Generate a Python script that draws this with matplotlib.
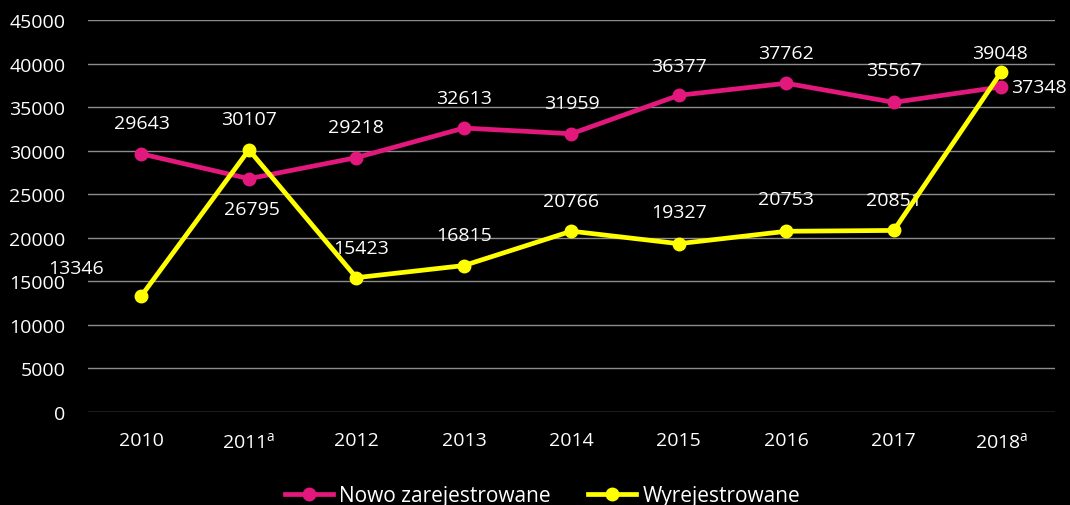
import matplotlib
matplotlib.use('Agg')
import matplotlib.pyplot as plt
import numpy as np

plt.rcParams['font.family'] = ['Open Sans', 'DejaVu Sans']

# ─── data ───
years = ["2010", "2011$^\\mathregular{a}$", "2012", "2013", "2014", "2015", "2016", "2017", "2018$^\\mathregular{a}$"]
nowo = [29643, 26795, 29218, 32613, 31959, 36377, 37762, 35567, 37348]
wyrej = [13346, 30107, 15423, 16815, 20766, 19327, 20753, 20851, 39048]
series_names = ["Nowo zarejestrowane", "Wyrejestrowane"]

PINK = "#E3187D"
YELLOW = "#FFFF00"
GRID = "#8C8C8C"

# label offsets in points (dx, dy)
nowo_off = [(0, 22), (2, -22), (0, 22), (0, 22), (0, 22), (0, 21), (0, 22), (0, 23), (27, 0)]
wyrej_off = [(-47, 20), (0, 22), (3, 21), (0, 22), (0, 22), (0, 23), (0, 23), (0, 22), (-1, 14)]

fig, ax = plt.subplots(figsize=(10.7, 5.06), dpi=100)
fig.patch.set_facecolor("black")
ax.set_facecolor("black")
fig.subplots_adjust(left=0.082, right=0.986, top=0.958, bottom=0.184)

x = np.arange(len(years))
ax.plot(x, nowo, "-o", color=PINK, lw=3.4, ms=9, label=series_names[0], zorder=3)
ax.plot(x, wyrej, "-o", color=YELLOW, lw=3.4, ms=9, label=series_names[1], zorder=4)

for xi, v, (dx, dy) in zip(x, nowo, nowo_off):
    ax.annotate(str(v), (xi, v), xytext=(dx, dy), textcoords="offset points",
                ha="center", va="center", color="white", fontsize=14)
for xi, v, (dx, dy) in zip(x, wyrej, wyrej_off):
    ax.annotate(str(v), (xi, v), xytext=(dx, dy), textcoords="offset points",
                ha="center", va="center", color="white", fontsize=14)

ax.set_xlim(-0.5, len(years) - 0.5)
ax.set_ylim(0, 45000)
ax.set_yticks(np.arange(0, 45001, 5000))
ax.set_xticks(x)
ax.set_xticklabels(years)
ax.tick_params(colors="white", labelsize=14, length=0)
ax.tick_params(axis="x", pad=14)
ax.tick_params(axis="y", pad=16)
ax.grid(axis="y", color=GRID, lw=1)
ax.set_axisbelow(True)
for s in ax.spines.values():
    s.set_visible(False)

leg = ax.legend(loc="upper center", bbox_to_anchor=(0.47, -0.14), ncol=2, frameon=False,
                fontsize=15, handlelength=2.3, columnspacing=1.8, handletextpad=0.3,
                labelcolor="white")

fig.savefig("out.png", dpi=100, facecolor="black")
